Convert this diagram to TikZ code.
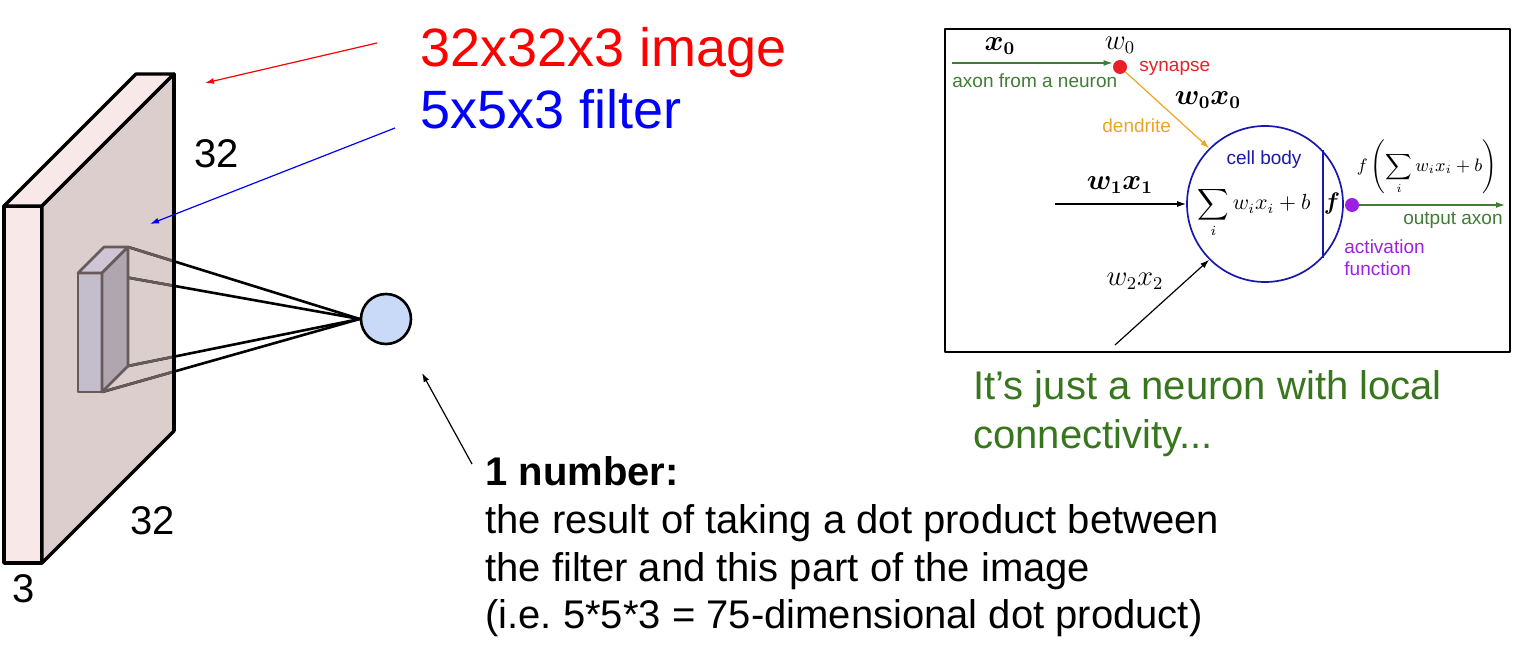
\documentclass[tikz,border=0pt]{standalone}
\usepackage{amsmath}
\usepackage[no-math]{fontspec}
\setmainfont{Liberation Sans}
\usepackage{xcolor}
\usepackage{tikz}
\usetikzlibrary{positioning, calc, arrows.meta}
\definecolor{slabfront}{RGB}{249,232,232}
\definecolor{slabside}{RGB}{221,206,206}
\definecolor{filterfront}{RGB}{196,189,204}
\definecolor{filterside}{RGB}{176,166,176}
\definecolor{filtertop}{RGB}{206,198,214}
\definecolor{filteredge}{RGB}{102,90,90}
\definecolor{unitblue}{RGB}{201,218,248}
\definecolor{notegreen}{RGB}{56,118,29}
\definecolor{axongreen}{RGB}{64,124,52}
\definecolor{synred}{RGB}{232,32,40}
\definecolor{dendorange}{RGB}{236,164,36}
\definecolor{bodyblue}{RGB}{24,24,176}
\definecolor{actpurple}{RGB}{156,32,228}
\frenchspacing
\tikzset{
	slab/.style={black, line width=1.7pt},
	filterbox/.style={filteredge, line width=1.3pt},
	wire/.style={line width=1.3pt},
	unit/.style={circle, draw, line width=1.3pt, fill=unitblue, minimum size=25pt, inner sep=0pt},
	biglabel/.style={font=\fontsize{27}{31}\selectfont, anchor=base west, inner sep=0pt},
	textline/.style={font=\fontsize{20}{24}\selectfont, anchor=base west, inner sep=0pt},
	tagline/.style={font=\fontsize{9.5}{11}\selectfont, inner sep=0pt},
	mathlabel/.style={font=\fontsize{13.5}{15}\selectfont, inner sep=0pt},
	thinarrow/.style={-{Latex[length=4.5pt,width=3pt]}, line width=0.6pt},
	cellbody/.style={circle, draw=bodyblue, line width=0.85pt, minimum size=78pt, inner sep=0pt},
	syndot/.style={circle, fill=synred, minimum size=7pt, inner sep=0pt},
	actdot/.style={circle, fill=actpurple, minimum size=7pt, inner sep=0pt}
}

\begin{document}
\begin{tikzpicture}[x=0.5pt, y=-0.5pt, line join=round]
	\useasboundingbox (0,0) rectangle (1533,646);
	% input volume
	\pgfmathsetmacro{\slabw}{38}
	\pgfmathsetmacro{\slabh}{357}
	\pgfmathsetmacro{\slabd}{132}
	\draw[slab, fill=slabfront] (4,206) -- ++(\slabw,0) -- ++(0,\slabh) -- ++(-\slabw,0) -- cycle;
	\draw[slab, fill=slabfront] (4,206) -- ++(\slabd,-\slabd) -- ++(\slabw,0) -- ++(-\slabd,\slabd) -- cycle;
	\draw[slab, fill=slabside] (42,206) -- ++(\slabd,-\slabd) -- ++(0,\slabh) -- ++(-\slabd,\slabd) -- cycle;
	% filter corners and output unit
	\pgfmathsetmacro{\filw}{24}
	\pgfmathsetmacro{\filh}{119}
	\pgfmathsetmacro{\fild}{26}
	\coordinate (f1) at (128,247);
	\coordinate (f2) at (102,273);
	\coordinate (f3) at (128,366);
	\coordinate (f4) at (102,392);
	\node[unit] (dot) at (386,319) {};
	\foreach \c in {f1,f2,f3,f4} \draw[wire] (\c) -- (dot.west);
	\begin{scope}
		\clip (42,206) -- ++(\slabd,-\slabd) -- ++(0,\slabh) -- ++(-\slabd,\slabd) -- cycle;
		\foreach \c in {f1,f2,f3,f4} \draw[wire, filteredge] (\c) -- (dot.west);
	\end{scope}
	\draw[slab] (174,74) -- ++(0,\slabh);
	\draw[filterbox, fill=filterfront] (78,273) -- ++(\filw,0) -- ++(0,\filh) -- ++(-\filw,0) -- cycle;
	\draw[filterbox, fill=filtertop] (78,273) -- ++(\fild,-\fild) -- ++(\filw,0) -- ++(-\fild,\fild) -- cycle;
	\draw[filterbox, fill=filterside] (102,273) -- ++(\fild,-\fild) -- ++(0,\filh) -- ++(-\fild,\fild) -- cycle;
	% sizes
	\node[textline] (sidetop) at (194,168) {32};
	\node[textline] (sidebottom) at (130,535) {32};
	\node[textline] (depthtext) at (12,603) {3};
	% labels and pointers
	\node[biglabel, red] (imgtext) at (420,67) {32x32x3 image};
	\node[biglabel, blue] (filtertext) at (420,129) {5x5x3 filter};
	\coordinate (imgtail) at (377,43);
	\coordinate (imgtip) at (205,83);
	\draw[thinarrow, red] (imgtail) -- (imgtip);
	\coordinate (filtail) at (395,128);
	\coordinate (filtip) at (150,224);
	\draw[thinarrow, blue] (filtail) -- (filtip);
	\coordinate (numtail) at (472,464);
	\coordinate (numtip) at (422,373);
	\draw[thinarrow] (numtail) -- (numtip);
	\node[textline, font=\fontsize{20}{24}\selectfont\bfseries] (numhead) at (485,486) {1 number:};
	\node[textline] (numline1) at (485,534) {the result of taking a dot product between};
	\node[textline] (numline2) at (485,582) {the filter and this part of the image};
	\node[textline] (numline3) at (485,629) {(i.e. 5*5*3 = 75-dimensional dot product)};
	\node[textline, notegreen] (note1) at (973,400) {It’s just a neuron with local};
	\node[textline, notegreen] (note2) at (973,449) {connectivity...};
	% neuron panel
	\draw[line width=1.3pt] (945,29) rectangle (1510,352);
	\node[cellbody] (cell) at (1265,204) {};
	\draw[bodyblue, line width=0.85pt] (cell.43) -- (cell.-43);
	\node[font=\fontsize{10.5}{12}\selectfont, anchor=base, inner sep=0pt] (sumtext) at (1254,210) {$\displaystyle\sum_i w_ix_i+b$};
	\node[font=\fontsize{12}{14}\selectfont, anchor=base, inner sep=0pt] (ftext) at (1332,210) {$\boldsymbol{f}$};
	\node[tagline, bodyblue, anchor=base] (bodytext) at (1264,165) {cell body};
	\node[font=\fontsize{9}{11}\selectfont, inner sep=0pt] (outtext) at (1427,167) {$\displaystyle f\left(\sum_i w_ix_i+b\right)$};
	\node[mathlabel] (xin) at (1000,46) {$\boldsymbol{x_0}$};
	\node[mathlabel] (wzero) at (1120,45) {$w_0$};
	\node[mathlabel] (wxzero) at (1208,100) {$\boldsymbol{w_0x_0}$};
	\node[mathlabel] (wxone) at (1120,185) {$\boldsymbol{w_1x_1}$};
	\node[mathlabel] (wxtwo) at (1135,281) {$w_2x_2$};
	\node[syndot] (syn) at (1120,67) {};
	\coordinate (axonin) at (952,63);
	\draw[thinarrow, axongreen] (axonin) -- (axonin -| syn.west);
	\node[tagline, axongreen, anchor=base west] (axontext) at (952,88) {axon from a neuron};
	\node[tagline, synred, anchor=base west] (syntext) at (1139,72) {synapse};
	\draw[thinarrow, dendorange] (syn) -- (cell.135);
	\node[tagline, dendorange, anchor=base west] (dendtext) at (1102,133) {dendrite};
	\coordinate (inone) at (1055,204);
	\draw[thinarrow] (inone) -- (cell.west);
	\coordinate (intwo) at (1115,345);
	\draw[thinarrow] (intwo) -- (cell.225);
	\node[actdot] (act) at (1352,205) {};
	\coordinate (axonout) at (1505,205);
	\draw[thinarrow, axongreen] (act) -- (axonout);
	\node[tagline, axongreen, anchor=base east] (outaxon) at (1503,225) {output axon};
	\node[tagline, actpurple, anchor=base west] (acttext1) at (1344,254) {activation};
	\node[tagline, actpurple, anchor=base west] (acttext2) at (1344,276) {function};
\end{tikzpicture}
\end{document}
